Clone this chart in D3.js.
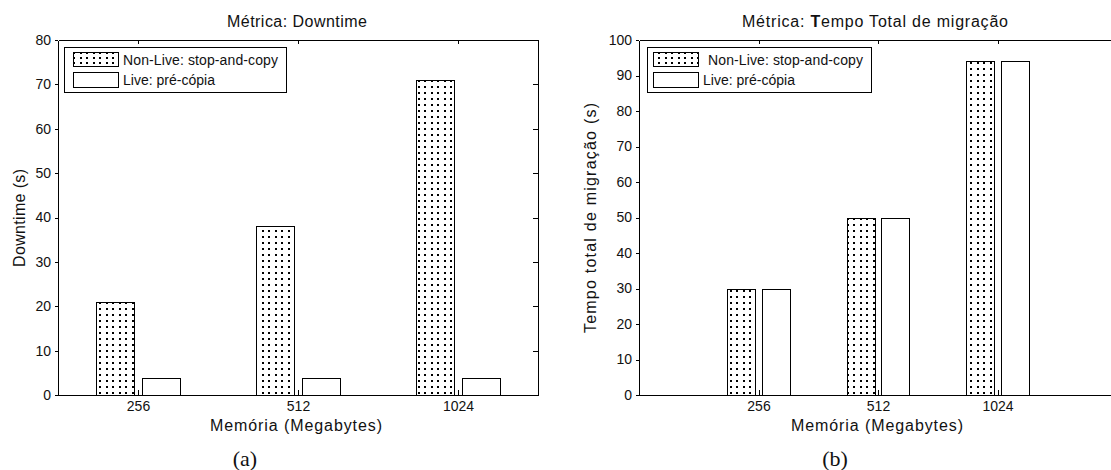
<!DOCTYPE html>
<html><head><meta charset="utf-8">
<script src="https://cdn.jsdelivr.net/npm/d3@7"></script>
<style>body{margin:0;background:#fff} svg{display:block}</style>
</head><body><svg id="c" width="1111" height="470"></svg>
<script>
const categories = ["256", "512", "1024"];
const seriesNames = ["Non-Live: stop-and-copy", "Live: pré-cópia"];
const downtimeNonLive = [21, 38, 71];
const downtimeLive = [3.8, 3.8, 3.8];
const totalNonLive = [30, 50, 94];
const totalLive = [30, 50, 94];
const downtimeTicks = [0, 10, 20, 30, 40, 50, 60, 70, 80];
const totalTicks = [0, 10, 20, 30, 40, 50, 60, 70, 80, 90, 100];

const svg = d3.select("#c");
const FONT = "'Liberation Sans', Arial, sans-serif";
const defs = svg.append("defs");
function dotPattern(id, h) {
  const p = defs.append("pattern").attr("id", id).attr("patternUnits", "userSpaceOnUse")
    .attr("width", 13).attr("height", h);
  p.append("rect").attr("width", 13).attr("height", h).attr("fill", "#fff");
  p.append("rect").attr("x", 2).attr("y", 2).attr("width", 2).attr("height", 2).attr("fill", "#000");
  p.append("rect").attr("x", 8).attr("y", 2).attr("width", 2).attr("height", 2).attr("fill", "#000");
}
dotPattern("dots", 6);
dotPattern("dotsLeg", 5);

function panel(cfg) {
  const top = 40, bottom = 395;
  const x = d3.scaleLinear().domain(cfg.xDomain).range([cfg.x0, cfg.x1]);
  const y = d3.scaleLinear().domain([0, cfg.ticks[cfg.ticks.length - 1]]).range([bottom, top]);
  const g = svg.append("g");
  const unit = x(1) - x(0);
  const bw = 0.235 * unit, off = 0.143 * unit;
  const series = [cfg.nonLive, cfg.live];
  series.forEach((vals, s) => {
    g.selectAll(null).data(vals).enter().append("rect")
      .attr("x", (d, i) => Math.round(x(i + 1) + (s === 0 ? -off : off) - bw / 2) + 0.5)
      .attr("y", d => Math.round(y(d)) + 0.5)
      .attr("width", Math.round(bw))
      .attr("height", d => Math.round(y(0)) - Math.round(y(d)))
      .attr("fill", s === 0 ? "url(#dots)" : "#fff")
      .attr("stroke", "#000").attr("stroke-width", 1);
  });
  const style = sel => {
    sel.selectAll("path,line").attr("stroke", "#000").attr("shape-rendering", "crispEdges");
    sel.selectAll("text").attr("font-family", FONT).attr("font-size", 14).attr("fill", "#111");
  };
  g.append("g").attr("transform", `translate(0,${bottom})`)
    .call(d3.axisBottom(x).tickValues([1, 2, 3]).tickFormat(i => categories[i - 1])
      .tickSizeInner(-5).tickSizeOuter(0).tickPadding(6)).call(style);
  g.append("g").attr("transform", `translate(0,${top})`)
    .call(d3.axisTop(x).tickValues([1, 2, 3]).tickFormat("").tickSizeInner(-4).tickSizeOuter(0)).call(style);
  g.append("g").attr("transform", `translate(${cfg.x0},0)`)
    .call(d3.axisLeft(y).tickValues(cfg.ticks).tickSizeInner(3).tickSizeOuter(0).tickPadding(4)).call(style);
  g.append("g").attr("transform", `translate(${cfg.x1},0)`)
    .call(d3.axisRight(y).tickValues(cfg.ticks).tickFormat("").tickSizeInner(-5).tickSizeOuter(0)).call(style);
  g.selectAll(".domain").attr("fill", "none");

  const t = g.append("text").attr("x", cfg.titleX).attr("y", 27).attr("text-anchor", "middle")
    .attr("font-family", FONT).attr("font-size", 16).attr("fill", "#111")
    .attr("textLength", cfg.titleLen).attr("lengthAdjust", "spacing");
  cfg.titleParts.forEach(p => t.append("tspan").attr("font-weight", p[1] ? "bold" : "normal").text(p[0]));
  g.append("text").attr("x", cfg.xLabelX).attr("y", 431).attr("text-anchor", "middle")
    .attr("font-family", FONT).attr("font-size", 16).attr("fill", "#111")
    .attr("textLength", 172).attr("lengthAdjust", "spacing").text("Memória (Megabytes)");
  g.append("text").attr("transform", `translate(${cfg.yLabelX},218) rotate(-90)`).attr("text-anchor", "middle")
    .attr("font-family", FONT).attr("font-size", 16).attr("fill", "#111")
    .attr("textLength", cfg.yLabelLen).attr("lengthAdjust", "spacing").text(cfg.yLabel);
  g.append("text").attr("x", cfg.capX).attr("y", 466).attr("text-anchor", "middle")
    .attr("font-family", "'Liberation Serif', 'Times New Roman', serif").attr("font-size", 22)
    .attr("fill", "#111").text(cfg.caption);
  const L = cfg.leg;
  g.append("rect").attr("x", L.x + 0.5).attr("y", 47.5).attr("width", L.w).attr("height", 45)
    .attr("fill", "#fff").attr("stroke", "#000");
  g.append("rect").attr("x", L.sx + 0.5).attr("y", 52.5).attr("width", 45).attr("height", 14)
    .attr("fill", "url(#dotsLeg)").attr("stroke", "#000");
  g.append("rect").attr("x", L.sx + 0.5).attr("y", 72.5).attr("width", 45).attr("height", 15)
    .attr("fill", "#fff").attr("stroke", "#000");
  g.append("text").attr("x", L.t1).attr("y", 65).attr("font-family", FONT).attr("font-size", 14)
    .attr("fill", "#111").attr("textLength", 155).attr("lengthAdjust", "spacing").text(seriesNames[0]);
  g.append("text").attr("x", L.t2).attr("y", 85).attr("font-family", FONT).attr("font-size", 14)
    .attr("fill", "#111").attr("textLength", 92).attr("lengthAdjust", "spacing").text(seriesNames[1]);
}

panel({
  x0: 58, x1: 538, xDomain: [0.5, 3.5], ticks: downtimeTicks,
  nonLive: downtimeNonLive, live: downtimeLive,
  titleParts: [["Métrica: Downtime", false]], titleX: 297, titleLen: 140,
  yLabel: "Downtime (s)", yLabelX: 25, yLabelLen: 98, xLabelX: 296,
  caption: "(a)", capX: 245,
  leg: { x: 64, w: 222, sx: 73, t1: 123, t2: 123 }
});
panel({
  x0: 639, x1: 1117, xDomain: [0, 4], ticks: totalTicks,
  nonLive: totalNonLive, live: totalLive,
  titleParts: [["Métrica: ", false], ["T", true], ["empo Total de migração", false]], titleX: 875, titleLen: 266,
  yLabel: "Tempo total de migração (s)", yLabelX: 596, yLabelLen: 230, xLabelX: 877,
  caption: "(b)", capX: 835,
  leg: { x: 647, w: 224, sx: 653, t1: 708, t2: 703 }
});
</script></body></html>
